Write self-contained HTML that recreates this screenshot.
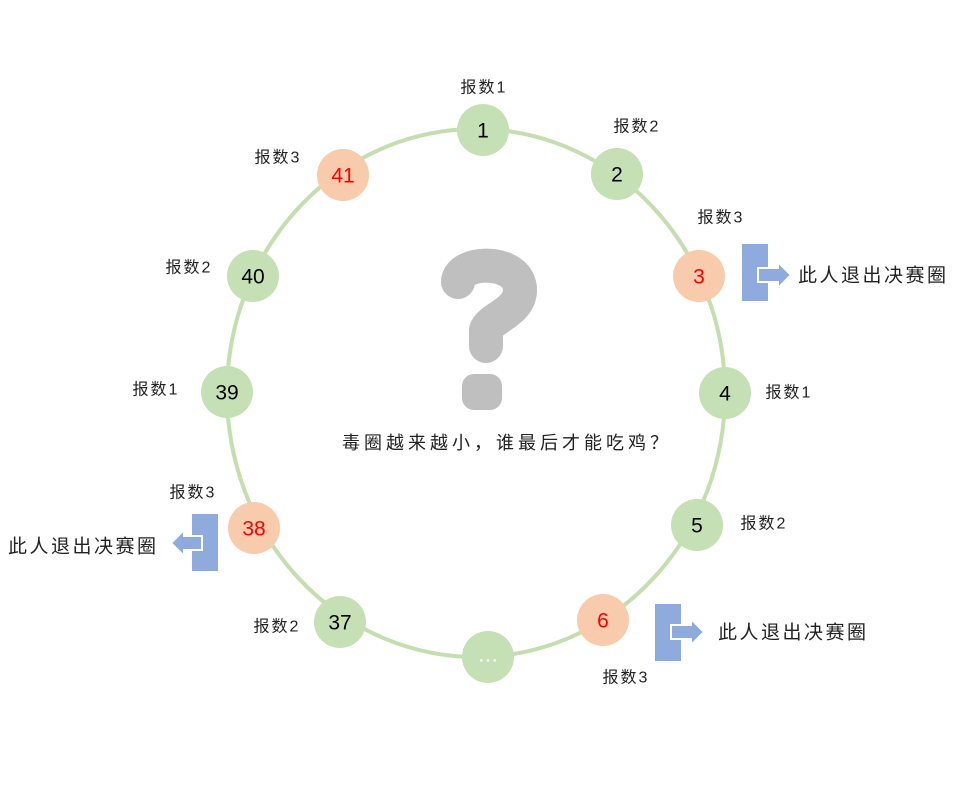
<!DOCTYPE html>
<html><head><meta charset="utf-8"><style>
body{margin:0;background:#fff;}
svg text{font-family:"Liberation Sans","Noto Sans CJK SC",sans-serif;}
</style></head><body>
<svg width="960" height="782" viewBox="0 0 960 782">
<ellipse cx="476" cy="393" rx="249" ry="264" fill="none" stroke="#c5deb0" stroke-width="4"/>
<g font-size="21" text-anchor="middle" dominant-baseline="central">
<circle cx="483" cy="130" r="26" fill="#c5e0b4"/><text x="483" y="131">1</text>
<circle cx="617" cy="174" r="26" fill="#c5e0b4"/><text x="617" y="175">2</text>
<circle cx="343" cy="175" r="26" fill="#f8cbad"/><text x="343" y="176" fill="#f00">41</text>
<circle cx="253" cy="276" r="26" fill="#c5e0b4"/><text x="253" y="277">40</text>
<circle cx="699" cy="276" r="26" fill="#f8cbad"/><text x="699" y="277" fill="#f00">3</text>
<circle cx="227" cy="392" r="26" fill="#c5e0b4"/><text x="227" y="393">39</text>
<circle cx="725" cy="393" r="26" fill="#c5e0b4"/><text x="725" y="394">4</text>
<circle cx="254" cy="528" r="26" fill="#f8cbad"/><text x="254" y="529" fill="#f00">38</text>
<circle cx="697" cy="525" r="26" fill="#c5e0b4"/><text x="697" y="526">5</text>
<circle cx="340" cy="622" r="26" fill="#c5e0b4"/><text x="340" y="623">37</text>
<circle cx="603" cy="620" r="26" fill="#f8cbad"/><text x="603" y="621" fill="#f00">6</text>
<circle cx="488" cy="657" r="26" fill="#c5e0b4"/><text x="488" y="655" fill="#fff">…</text>
</g>
<g font-size="16" letter-spacing="2" text-anchor="middle" dominant-baseline="central" fill="#222">
<text x="484" y="88">报数1</text>
<text x="637" y="127">报数2</text>
<text x="278" y="158">报数3</text>
<text x="721" y="218">报数3</text>
<text x="189" y="268">报数2</text>
<text x="789" y="393">报数1</text>
<text x="156" y="390">报数1</text>
<text x="193" y="493">报数3</text>
<text x="764" y="524">报数2</text>
<text x="277" y="627">报数2</text>
<text x="626" y="678">报数3</text>
</g>
<g font-size="19" letter-spacing="2.5" dominant-baseline="central" fill="#222">
<text x="798" y="276">此人退出决赛圈</text>
<text x="8" y="547">此人退出决赛圈</text>
<text x="718" y="633">此人退出决赛圈</text>
<text x="342" y="443" font-size="18" letter-spacing="4">毒圈越来越小，谁最后才能吃鸡？</text>
</g>
<g fill="#8faadc">
<rect x="742" y="244" width="26" height="57"/>
<path d="M758 268 H778 V262 L791 275 L778 288 V282 H758 Z" stroke="#fff" stroke-width="2"/>
<rect x="655" y="604" width="26" height="57"/>
<path d="M671 625 H691 V619 L704 632 L691 645 V639 H671 Z" stroke="#fff" stroke-width="2"/>
<rect x="192" y="514" width="26" height="57"/>
<path d="M202 536 H184 V530 L171 543 L184 556 V550 H202 Z" stroke="#fff" stroke-width="2"/>
</g>
<path d="M458 282 C458 260 520 258 520 290 C520 312 490 318 486 330 V346" fill="none" stroke="#bfbfbf" stroke-width="34" stroke-linecap="round" stroke-linejoin="round"/>
<rect x="462" y="374" width="40" height="36" rx="12" fill="#bfbfbf"/>
</svg>
</body></html>
